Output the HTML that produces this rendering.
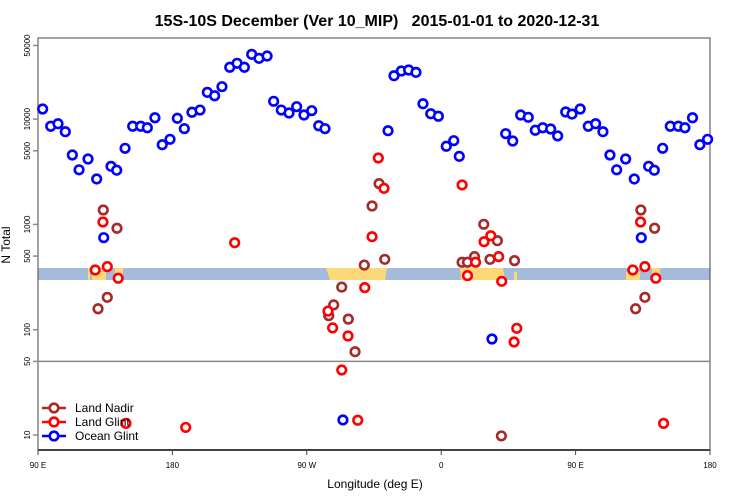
<!DOCTYPE html>
<html><head><meta charset="utf-8"><style>
body{margin:0;background:#fff;font-family:"Liberation Sans",sans-serif}
svg{display:block}
</style></head><body>
<svg id="chart" width="750" height="500" viewBox="0 0 750 500" font-family="Liberation Sans, sans-serif">
<text x="377" y="26" text-anchor="middle" font-size="16" font-weight="bold" xml:space="preserve" style="white-space:pre">15S-10S December (Ver 10_MIP)   2015-01-01 to 2020-12-31</text>
<g id="band">
<rect x="38" y="268" width="672" height="12" fill="#a4bbd9"/>
<rect x="88" y="268" width="2" height="12" fill="#fdd877"/>
<rect x="92" y="272" width="14" height="8" fill="#fdd877"/>
<rect x="100" y="268" width="5" height="3" fill="#fdd877"/>
<rect x="115" y="268" width="8" height="12" fill="#fdd877"/>
<polygon points="326,268 387,268 385,280 330,280" fill="#fdd877"/>
<polygon points="460,268 503,268 505,280 461,280" fill="#fdd877"/>
<rect x="514" y="272" width="3" height="8" fill="#fdd877"/>
<rect x="626" y="272" width="14" height="8" fill="#fdd877"/>
<rect x="652" y="268" width="8" height="12" fill="#fdd877"/>
</g>
<g id="axes"></g>
<g id="marks"></g>
<g id="legend">
<g><line x1="42" y1="408" x2="66" y2="408" stroke="#a52a2a" stroke-width="2.5"/><circle cx="54" cy="408" r="4.3" fill="#fff" stroke="#a52a2a" stroke-width="2.6"/><text x="75" y="412" font-size="12">Land Nadir</text></g>
<g><line x1="42" y1="422" x2="66" y2="422" stroke="#ff0000" stroke-width="2.5"/><circle cx="54" cy="422" r="4.3" fill="#fff" stroke="#ff0000" stroke-width="2.6"/><text x="75" y="426" font-size="12">Land Glint</text></g>
<g><line x1="42" y1="436" x2="66" y2="436" stroke="#0000ff" stroke-width="2.5"/><circle cx="54" cy="436" r="4.3" fill="#fff" stroke="#0000ff" stroke-width="2.6"/><text x="75" y="440" font-size="12">Ocean Glint</text></g>
</g>
</svg>
<script>
// longitude in continuous degrees east (90..450), N total
const oceanLon=[93.1,98.5,103.4,108.3,113,117.5,123.5,129.3,134,138.9,142.7,148.3,153.4,158.8,163.2,168.3,173.2,178.4,183.3,188,193.1,198.5,203.4,208.3,213.2,218.4,223.3,228.2,233.1,238,243.4,247.8,252.9,258.1,263.2,268.1,273.3,278,282.2,294.2,324.4,328.4,333.3,338.2,343.1,347.8,353,358.1,363.4,368.4,372.1,394,403.2,407.9,413.2,418.3,423,428,433.3,438,443.4,447.6];
const oceanVal=[12470,8550,9040,7590,4560,3300,4180,2700,748,3560,3270,5280,8550,8550,8280,10300,5710,6430,10180,8110,11610,12190,17950,16670,20320,31050,33880,31050,41210,37760,39710,14760,12190,11420,13120,10940,12020,8650,8110,13.9,7760,25820,28640,29250,27800,14000,11250,10640,5520,6240,4430,81.6,7270,6190,10940,10400,7830,8280,8050,6920,11680,11160];
const nadirLon=[133.7,142.9,130.2,136.4,284.7,288,293.4,297.8,302.3,308.5,313.7,318.4,322.2,374,377.6,382.3,388.5,392.7,397.6,400.3,409.1];
const nadirVal=[1370,919,158,203,136,172,254,126,61.8,411,1496,2440,466,437,437,494,1002,466,700,9.8,453];
const glintLon=[133.5,128.3,136.4,143.7,148.9,188.9,221.7,284.2,287.3,293.4,297.6,304.1,308.8,313.7,317.9,321.7,374,377.6,383,388.7,393.2,398.5,400.5,408.8,410.6];
const glintVal=[1054,369,397,308,12.9,11.8,670,150,104,41.4,87.1,13.8,251,764,4270,2200,2370,326,437,685,781,494,288,76.4,103];
const yTicks=[50000,10000,5000,1000,500,100,50,10];
const xTickLon=[90,180,270,360,450,540];
const xTickLabels=["90 E","180","90 W","0","90 E","180"];

const NS="http://www.w3.org/2000/svg";
const X0=38,X1=710,Y0=38,YB=450;
const xs=l=>X0+(l-90)*(X1-X0)/450;
const ys=v=>435-(Math.log10(v)-1)*105.3;
function mk(tag,attrs,parent){const e=document.createElementNS(NS,tag);for(const k in attrs)e.setAttribute(k,attrs[k]);parent.appendChild(e);return e;}
const axes=document.getElementById('axes'),marks=document.getElementById('marks');
let e;
e=mk('rect',{x:X0,y:Y0,width:X1-X0,height:YB-Y0,fill:'none',stroke:'#444','stroke-width':1},axes);


e=mk('line',{x1:X0,y1:YB,x2:X1,y2:YB,stroke:'#444','stroke-width':2},axes);


e=mk('line',{x1:X0,y1:ys(50),x2:X1,y2:ys(50),stroke:'#888','stroke-width':1.5},axes);


yTicks.forEach(v=>{const y=ys(v);
 e=mk('line',{x1:33,y1:y,x2:X0,y2:y,stroke:'#888','stroke-width':1.5},axes);
 
 
 e=mk('text',{x:0,y:0,transform:`translate(30,${y}) rotate(-90)`,'text-anchor':'middle','font-size':8},axes);
 e.textContent=v;
 
 
});
xTickLon.forEach((l,i)=>{const x=xs(l);
 e=mk('line',{x1:x,y1:YB,x2:x,y2:455,stroke:'#444','stroke-width':1},axes);
 
 
 e=mk('text',{x:x,y:468,'text-anchor':'middle','font-size':8},axes);
 e.textContent=xTickLabels[i];
 
 
});
e=mk('text',{x:375,y:488,'text-anchor':'middle','font-size':12},axes);
e.textContent='Longitude (deg E)';


e=mk('text',{x:0,y:0,transform:'translate(10,245) rotate(-90)','text-anchor':'middle','font-size':12},axes);
e.textContent='N Total';


function series(lons,vals,color,name){
 lons.forEach((l,i)=>{[l,l+360].forEach(L=>{if(L<90||L>541)return;
  const c=mk('circle',{cx:xs(L),cy:ys(vals[i]),r:4.3,fill:'#fff',stroke:color,'stroke-width':2.6},marks);
  
  
 });});
}
series(oceanLon,oceanVal,'#0000ff','ocean-glint-point');
series(nadirLon,nadirVal,'#a52a2a','land-nadir-point');
series(glintLon,glintVal,'#ff0000','land-glint-point');
</script>
</body></html>
